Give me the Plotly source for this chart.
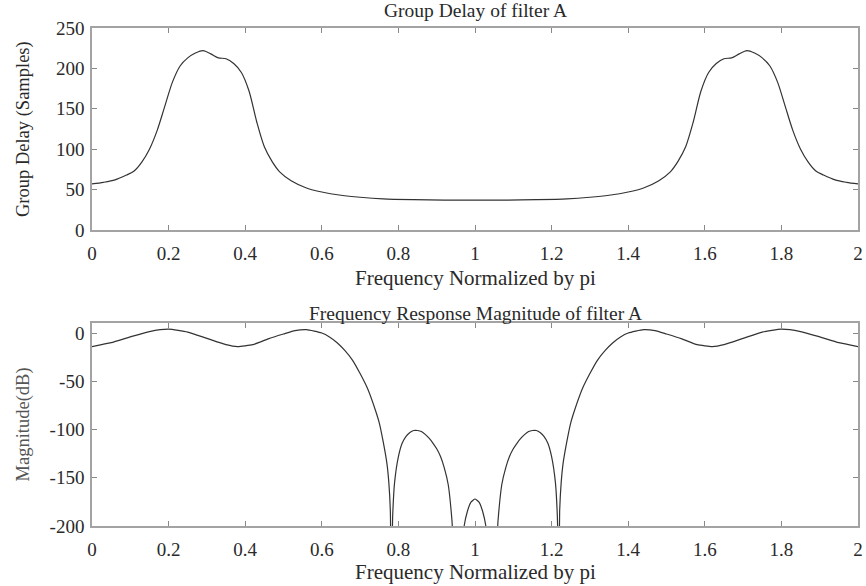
import plotly.graph_objects as go
from plotly.subplots import make_subplots

# ---- data ----
gd_x = [0, 0.03, 0.06, 0.09, 0.11, 0.13, 0.15, 0.17, 0.19, 0.21, 0.23, 0.25, 0.27, 0.29,
        0.31, 0.33, 0.35, 0.37, 0.39, 0.41, 0.43, 0.45, 0.47, 0.49, 0.52, 0.56, 0.60, 0.65,
        0.70, 0.76, 0.84, 0.92, 1.0,
        1.08, 1.16, 1.24, 1.30, 1.35, 1.40, 1.44, 1.48, 1.51, 1.53, 1.55, 1.57, 1.59, 1.61,
        1.63, 1.65, 1.67, 1.69, 1.71, 1.73, 1.75, 1.77, 1.79, 1.81, 1.83, 1.85, 1.87, 1.89,
        1.91, 1.94, 1.97, 2.0]
gd_y = [57, 59, 62, 68, 73, 84, 100, 123, 153, 183, 203, 213, 219, 222,
        218, 213, 212, 206, 195, 172, 134, 103, 85, 72, 61, 52, 47, 43,
        40.5, 38.5, 37.5, 37, 37,
        37, 37.5, 38.5, 40.5, 43, 47, 52, 61, 72, 85, 103, 134, 172, 195,
        206, 212, 213, 218, 222, 219, 213, 203, 183, 153, 123, 100, 84, 73,
        68, 62, 59, 57]

mag_x = [0, 0.05, 0.1, 0.15, 0.2, 0.25, 0.3, 0.35, 0.38, 0.42, 0.46, 0.5, 0.53, 0.56, 0.6,
         0.62, 0.64, 0.66, 0.68, 0.7, 0.72, 0.74, 0.75, 0.76, 0.77, 0.775, 0.779, 0.781,
         0.785, 0.79, 0.8, 0.81, 0.82, 0.83, 0.84, 0.85, 0.86, 0.87, 0.88, 0.89, 0.9, 0.91,
         0.92, 0.93, 0.94, 0.95, 0.965, 0.97, 0.98, 0.99, 1.0,
         1.01, 1.02, 1.03, 1.035, 1.05, 1.06, 1.07, 1.08, 1.09, 1.1, 1.11, 1.12, 1.13,
         1.14, 1.15, 1.16, 1.17, 1.18, 1.19, 1.2, 1.21, 1.215, 1.219, 1.221, 1.225, 1.23,
         1.24, 1.25, 1.26, 1.28, 1.3, 1.32, 1.34, 1.36, 1.38, 1.4, 1.44, 1.47, 1.5, 1.54,
         1.58, 1.62, 1.65, 1.7, 1.75, 1.8, 1.85, 1.9, 1.95, 2.0]
mag_y = [-14, -10, -4, 1.5, 4, 1, -5.5, -12, -14, -12, -6, -1, 2.5, 3.5, 0,
         -4, -10, -18, -28, -42, -58, -80, -93, -112, -135, -155, -185, -260,
         -190, -155, -128, -114, -107, -103, -101, -101, -102, -105, -109, -114, -120, -128,
         -140, -157, -195, -260, -260, -205, -185, -175, -172,
         -175, -185, -205, -260, -260, -195, -157, -140, -128, -120, -114, -109, -105,
         -102, -101, -101, -103, -107, -114, -128, -155, -190, -260, -185, -155, -135,
         -112, -93, -80, -58, -42, -28, -18, -10, -4, 0, 3.5, 2.5, -1, -6,
         -12, -14, -12, -5.5, 1, 4, 1.5, -4, -10, -14]

x_ticks = [0, 0.2, 0.4, 0.6, 0.8, 1, 1.2, 1.4, 1.6, 1.8, 2]
x_tick_text = ["0", "0.2", "0.4", "0.6", "0.8", "1", "1.2", "1.4", "1.6", "1.8", "2"]
gd_ticks = [0, 50, 100, 150, 200, 250]
gd_tick_text = ["0", "50", "100", "150", "200", "250"]
mag_ticks = [-200, -150, -100, -50, 0]
mag_tick_text = ["-200", "-150", "-100", "-50", "0"]

FONT = "Liberation Serif"
LINE = "#a3a3a3"
TXT = "#2a2a2a"

fig = make_subplots(rows=2, cols=1, vertical_spacing=0.0)

fig.add_trace(go.Scatter(x=gd_x, y=gd_y, mode="lines",
                         line=dict(color="#333333", width=1.2, shape="spline", smoothing=0.8),
                         showlegend=False), row=1, col=1)
fig.add_trace(go.Scatter(x=mag_x, y=mag_y, mode="lines",
                         line=dict(color="#333333", width=1.2, shape="spline", smoothing=0.5),
                         showlegend=False), row=2, col=1)

axis_common = dict(showline=True, linecolor=LINE, linewidth=1.5, mirror="allticks",
                   ticks="inside", ticklen=5, tickcolor="#888888", tickwidth=1,
                   showgrid=False, zeroline=False,
                   tickfont=dict(family=FONT, size=19, color=TXT))

fig.update_xaxes(range=[0, 2], tickvals=x_ticks, ticktext=x_tick_text,
                 ticklabelstandoff=5, **axis_common)
fig.update_yaxes(ticklabelstandoff=2, **axis_common)
fig.update_yaxes(range=[0, 250], tickvals=gd_ticks, ticktext=gd_tick_text, row=1, col=1)
fig.update_yaxes(range=[-200, 10.4], tickvals=mag_ticks, ticktext=mag_tick_text, row=2, col=1)

fig.update_layout(
    width=866, height=586,
    margin=dict(l=92, r=8, t=28, b=60, autoexpand=False),
    paper_bgcolor="white", plot_bgcolor="white",
    font=dict(family=FONT, color=TXT),
    xaxis=dict(domain=[0, 1]), xaxis2=dict(domain=[0, 1]),
    yaxis=dict(domain=[0.5944, 1.0]),
    yaxis2=dict(domain=[0.0, 0.4076]),
)

ann = [
    dict(text="Group Delay of filter A", xref="x domain", yref="y domain", x=0.5, y=1,
         xanchor="center", yanchor="bottom", yshift=5, size=19.5),
    dict(text="Frequency Response Magnitude of filter A", xref="x2 domain", yref="y2 domain",
         x=0.5, y=1, xanchor="center", yanchor="bottom", yshift=-3, size=19.5),
    dict(text="Frequency Normalized by pi", xref="x domain", yref="y domain", x=0.5, y=0,
         xanchor="center", yanchor="top", yshift=-34, size=21),
    dict(text="Frequency Normalized by pi", xref="x2 domain", yref="y2 domain", x=0.5, y=0,
         xanchor="center", yanchor="top", yshift=-32, size=21),
]
for a in ann:
    size = a.pop("size")
    fig.add_annotation(showarrow=False, font=dict(family=FONT, size=size, color=TXT), **a)

fig.add_annotation(text="Group Delay (Samples)", xref="x domain", yref="y domain", x=0, y=0.5,
                   xanchor="center", yanchor="middle", xshift=-68, textangle=-90,
                   showarrow=False, font=dict(family=FONT, size=18.5, color=TXT))
fig.add_annotation(text="Magnitude(dB)", xref="x2 domain", yref="y2 domain", x=0, y=0.5,
                   xanchor="center", yanchor="middle", xshift=-68, textangle=-90,
                   showarrow=False, font=dict(family=FONT, size=18.5, color="#555555"))

fig.write_html("out.html")
